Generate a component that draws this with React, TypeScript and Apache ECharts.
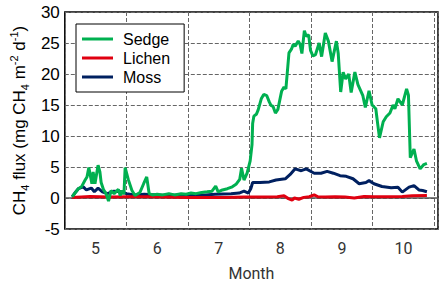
import React, { useEffect, useRef } from 'react';
import * as echarts from 'echarts';

// x positions are in "month" units (5 = May centre, 5.5 = boundary May/June)
const monthTicks = [5, 6, 7, 8, 9, 10];

const sedgeMonth = [4.62,4.72,4.77,4.83,4.86,4.89,4.94,4.96,4.99,5.04,5.07,5.09,5.13,5.17,5.21,5.25,5.30,5.37,5.40,5.43,5.46,5.48,5.53,5.59,5.64,5.72,5.78,5.83,5.87,5.92,6.00,6.09,6.19,6.28,6.39,6.47,6.55,6.63,6.72,6.81,6.89,6.95,6.99,7.06,7.14,7.22,7.28,7.34,7.37,7.41,7.46,7.51,7.54,7.55,7.57,7.61,7.64,7.69,7.73,7.78,7.82,7.85,7.88,7.92,7.96,8.02,8.06,8.09,8.14,8.18,8.21,8.24,8.29,8.32,8.35,8.39,8.42,8.46,8.49,8.53,8.57,8.63,8.67,8.73,8.78,8.84,8.91,8.94,8.98,9.02,9.06,9.11,9.15,9.21,9.26,9.34,9.38,9.44,9.49,9.55,9.58,9.61,9.67,9.72,9.78,9.83,9.86,9.91,9.98,10.05,10.08,10.11,10.17,10.21,10.27,10.33,10.38];
const sedgeFlux = [0.2,1.5,1.8,2.9,3.4,4.9,2.3,4.2,2.3,5.3,4.2,2.5,1.3,0.7,-0.5,1.2,0.7,1.4,0.4,1.2,0.6,4.9,3.0,1.2,0.4,0.9,2.3,3.4,0.7,0.5,0.6,0.5,0.7,0.5,0.7,0.6,0.8,0.7,0.9,1.0,1.1,1.9,1.0,1.3,1.5,1.8,2.2,3.0,4.8,2.9,4.0,6.0,8.6,12.0,13.2,13.5,14.2,16.0,16.7,16.5,15.5,14.9,14.8,13.7,14.3,17.2,17.9,17.6,23.4,24.0,24.8,24.5,25.3,24.8,23.3,27.0,26.1,26.3,23.8,22.9,23.1,25.0,22.8,26.6,25.3,22.0,25.3,23.3,17.1,20.3,19.2,20.0,17.0,20.3,18.3,16.5,14.6,17.3,15.0,14.4,12.0,9.7,12.3,13.1,13.7,15.0,14.4,16.0,15.0,17.6,16.6,6.5,7.9,6.0,4.7,5.4,5.6];

const lichenMonth = [4.62,4.91,5.22,5.53,5.84,6.16,6.47,6.78,7.09,7.41,7.72,7.95,8.06,8.13,8.19,8.23,8.30,8.38,8.47,8.55,8.61,8.73,8.89,9.05,9.20,9.36,9.52,9.75,9.98,10.14,10.38];
const lichenFlux = [0.1,0.25,0.15,0.2,0.2,0.15,0.1,0.1,0.1,0.15,0.15,0.2,0.35,-0.1,-0.35,0.0,-0.2,0.1,0.2,0.5,0.2,0.15,0.2,0.15,0.0,0.25,0.2,0.2,0.25,0.35,0.4];

const mossMonth = [4.62,4.67,4.72,4.80,4.85,4.93,4.98,5.04,5.11,5.19,5.30,5.43,5.50,5.64,5.79,6.00,6.23,6.52,6.78,6.94,7.20,7.33,7.41,7.48,7.52,7.55,7.67,7.82,7.93,8.08,8.16,8.24,8.34,8.42,8.55,8.66,8.76,8.86,8.97,9.07,9.18,9.28,9.39,9.44,9.52,9.65,9.80,9.91,9.98,10.09,10.17,10.25,10.31,10.38];
const mossFlux = [0.2,0.9,1.5,1.8,1.3,1.6,1.0,1.6,1.0,0.7,1.1,1.0,0.7,0.5,0.6,0.5,0.45,0.5,0.5,0.6,0.7,0.8,1.1,0.8,1.5,2.5,2.5,2.6,2.9,3.1,3.8,4.7,4.4,4.7,4.0,4.0,4.3,4.0,3.6,3.5,3.1,2.3,2.5,2.8,2.3,1.85,1.65,1.75,0.95,1.75,2.0,1.3,1.2,1.0];

const xMin = 4.5;
const xMax = 10.56;

const zip = (xs: number[], ys: number[]) => xs.map((x, i) => [x, ys[i]]);

export default function App() {
  const ref = useRef<HTMLDivElement>(null);
  useEffect(() => {
    const chart = echarts.init(ref.current!, null, { renderer: 'svg' });
    const arial = 'Liberation Sans, Arial, sans-serif';
    const gridLine = { show: true, lineStyle: { type: 'dashed', color: '#666', width: 1 } };
    chart.setOption({
      animation: false,
      backgroundColor: '#fff',
      grid: {
        left: 64, right: -11, top: 12, bottom: 53,
        show: true, borderColor: '#000', borderWidth: 1.5,
      },
      legend: {
        orient: 'vertical', left: 76, top: 24,
        data: ['Sedge', 'Lichen', 'Moss'],
        icon: 'rect',
        backgroundColor: '#fff', borderColor: '#000', borderWidth: 1,
        padding: [7, 14, 7, 6], itemGap: 3, itemWidth: 31, itemHeight: 3,
        textStyle: { fontSize: 16, fontFamily: arial, color: '#000', lineHeight: 15, padding: [0, 0, 0, 5] },
        z: 10,
      },
      xAxis: [
        {
          type: 'value', min: xMin, max: xMax, interval: 0.5,
          axisLine: { show: false, onZero: false },
          axisTick: { show: false },
          splitLine: { show: false },
          axisLabel: {
            fontSize: 16, fontFamily: 'Roboto, sans-serif', color: '#333', margin: 11,
            formatter: (v: number) => {
              const r = Math.round(v);
              return Math.abs(v - r) < 1e-6 && monthTicks.includes(r) ? String(r) : '';
            },
          },
          name: 'Month', nameLocation: 'middle', nameGap: 36,
          nameTextStyle: { fontSize: 16, fontFamily: 'Roboto, sans-serif', color: '#333' },
        },
        {
          type: 'value', min: xMin, max: xMax, interval: 1, position: 'bottom',
          axisLine: { show: false, onZero: false },
          axisTick: { show: false },
          axisLabel: { show: false },
          splitLine: gridLine,
        },
      ],
      yAxis: {
        type: 'value', min: -5, max: 30, interval: 5,
        axisLine: { show: false },
        axisTick: { show: false },
        axisLabel: { fontSize: 17, fontFamily: arial, color: '#000', margin: 5 },
        splitLine: gridLine,
        name: '{a|CH}{b|4}{a| flux (mg CH}{b|4}{a| m}{c|-2}{a| d}{c|-1}{a|)}',
        nameLocation: 'middle', nameGap: 32,
        nameTextStyle: {
          rich: {
            a: { fontSize: 17, fontFamily: arial, color: '#000', lineHeight: 22 },
            b: { fontSize: 11, fontFamily: arial, color: '#000', lineHeight: 11, verticalAlign: 'bottom' },
            c: { fontSize: 11, fontFamily: arial, color: '#000', lineHeight: 11, verticalAlign: 'top' },
          },
        },
      },
      series: [
        {
          name: 'zero', type: 'line', data: [[xMin, 0], [xMax, 0]], symbol: 'none', silent: true,
          lineStyle: { color: '#555', width: 1.5 }, z: 1,
        },
        {
          name: 'Moss', type: 'line', data: zip(mossMonth, mossFlux), symbol: 'none',
          lineStyle: { color: '#002060', width: 3 }, itemStyle: { color: '#002060' }, z: 2,
        },
        {
          name: 'Lichen', type: 'line', data: zip(lichenMonth, lichenFlux), symbol: 'none',
          lineStyle: { color: '#e00010', width: 3 }, itemStyle: { color: '#e00010' }, z: 3,
        },
        {
          name: 'Sedge', type: 'line', data: zip(sedgeMonth, sedgeFlux), symbol: 'none',
          lineStyle: { color: '#00b050', width: 3 }, itemStyle: { color: '#00b050' }, z: 4,
        },
      ],
    });
    return () => chart.dispose();
  }, []);
  return <div ref={ref} style={{ position: 'fixed', left: 0, top: 0, width: 441, height: 286 }} />;
}
